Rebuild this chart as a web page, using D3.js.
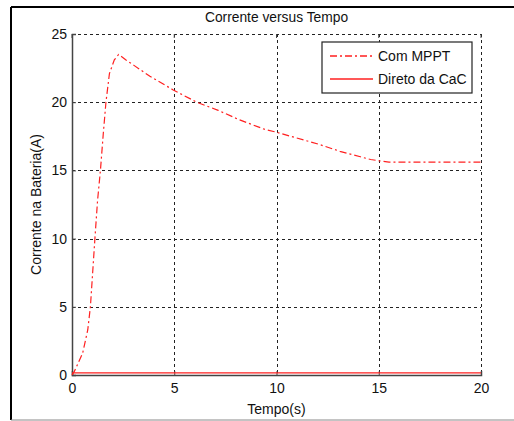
<!DOCTYPE html>
<html lang="pt">
<head>
<meta charset="UTF-8">
<title>Corrente versus Tempo</title>
<script src="https://d3js.org/d3.v7.min.js"></script>
<style>
  body { margin: 0; background: #fff; }
  text { font-family: "Liberation Sans", Arial, sans-serif; fill: #111; }
</style>
</head>
<body>
<div id="chart"></div>
<script>
// values
const tempo = [0, 0.11, 0.52, 0.77, 0.9, 1.01, 1.12, 1.25, 1.39, 1.53, 1.66, 1.83, 2.07, 2.28, 2.64, 3.03, 3.81, 4.95, 6.1, 7.15, 8.2, 9.44, 10, 12.1, 13.1, 14.1, 14.6, 15.03, 15.5, 16, 18, 20]
const comMPPT = [0, 0.25, 1.6, 3.3, 5, 7.5, 10, 12.8, 15, 17.7, 20, 22.1, 23.1, 23.5, 23.1, 22.7, 21.9, 20.9, 20.0, 19.4, 18.7, 18.0, 17.8, 16.9, 16.4, 16.0, 15.8, 15.7, 15.6, 15.6, 15.6, 15.6]
const tempoDireto = [0, 20]
const direto = [0.15, 0.15]
const xTicks = [0, 5, 10, 15, 20]
const yTicks = [0, 5, 10, 15, 20, 25]
const legendNames = ["Com MPPT", "Direto da CaC"]

const W = 514, H = 421
const margin = {top: 34, right: 33, bottom: 46, left: 72}
const width = W - margin.left - margin.right,
      height = H - margin.top - margin.bottom

const svg = d3.select("#chart").append("svg")
    .attr("width", W).attr("height", H)

// outer frame
svg.append("line").attr("x1", 11).attr("x2", W).attr("y1", 7).attr("y2", 7)
    .attr("stroke", "#000").attr("stroke-width", 2)
svg.append("line").attr("x1", 11).attr("x2", 11).attr("y1", 7).attr("y2", 420)
    .attr("stroke", "#000").attr("stroke-width", 2)
svg.append("line").attr("x1", 11).attr("x2", W).attr("y1", 420).attr("y2", 420)
    .attr("stroke", "#888").attr("stroke-width", 1)

const g = svg.append("g").attr("transform", `translate(${margin.left},${margin.top})`)

const x = d3.scaleLinear().domain([0, 20]).range([0, width])
const y = d3.scaleLinear().domain([0, 25]).range([height, 0])

// grid
g.append("g").selectAll("line").data(xTicks.slice(1)).join("line")
    .attr("x1", d => Math.round(x(d)) + 0.5).attr("x2", d => Math.round(x(d)) + 0.5)
    .attr("y1", 0).attr("y2", height)
    .attr("stroke", "#222").attr("stroke-dasharray", "3,3")
g.append("g").selectAll("line").data(yTicks.slice(1)).join("line")
    .attr("y1", d => Math.round(y(d)) + 0.5).attr("y2", d => Math.round(y(d)) + 0.5)
    .attr("x1", 0).attr("x2", width)
    .attr("stroke", "#222").attr("stroke-dasharray", "3,3")

// axes
const xAxis = g.append("g").attr("transform", `translate(0,${height})`)
    .call(d3.axisBottom(x).tickValues(xTicks).tickSize(-4).tickPadding(8))
const yAxis = g.append("g")
    .call(d3.axisLeft(y).tickValues(yTicks).tickSize(-4).tickPadding(5))
for (const a of [xAxis, yAxis]) {
  a.select(".domain").attr("stroke", "#444").attr("stroke-width", 1.5)
  a.selectAll(".tick line").attr("stroke", "#444")
  a.selectAll("text").style("font-size", "14px")
    .style("font-family", "'Liberation Sans', Arial, sans-serif").attr("fill", "#222")
}
// ticks on top edge
g.append("g").selectAll("line").data(xTicks).join("line")
    .attr("x1", d => x(d)).attr("x2", d => x(d)).attr("y1", 0).attr("y2", 4)
    .attr("stroke", "#444")

// lines
const line = d3.line().x(d => x(d[0])).y(d => y(d[1]))
g.append("path").datum(tempo.map((t, i) => [t, comMPPT[i]]))
    .attr("d", line).attr("fill", "none").attr("stroke", "#ff2020")
    .attr("stroke-width", 1.2).attr("stroke-dasharray", "7,3,2,3")
g.append("path").datum(tempoDireto.map((t, i) => [t, direto[i]]))
    .attr("d", line).attr("fill", "none").attr("stroke", "#ff2020")
    .attr("stroke-width", 1.3)

// titles
svg.append("text").attr("x", margin.left + width / 2).attr("y", 22)
    .attr("text-anchor", "middle").style("font-size", "13.8px").text("Corrente versus Tempo")
svg.append("text").attr("x", margin.left + width / 2).attr("y", 414)
    .attr("text-anchor", "middle").style("font-size", "14px").text("Tempo(s)")
svg.append("text").attr("transform", `translate(41,${margin.top + height / 2}) rotate(-90)`)
    .attr("text-anchor", "middle").style("font-size", "14px").text("Corrente na Bateria(A)")

// legend
const lg = svg.append("g").attr("transform", "translate(322,42)")
lg.append("rect").attr("width", 150).attr("height", 51)
    .attr("fill", "#fff").attr("stroke", "#222").attr("stroke-width", 1.2)
const dashes = ["7,3,2,3", null]
legendNames.forEach((name, i) => {
  const yy = 14 + i * 23
  lg.append("line").attr("x1", 8).attr("x2", 51).attr("y1", yy).attr("y2", yy)
      .attr("stroke", "#ff2020").attr("stroke-width", 1.3)
      .attr("stroke-dasharray", dashes[i])
  lg.append("text").attr("x", 56).attr("y", yy + 5).style("font-size", "14px").text(name)
})
</script>
</body>
</html>
